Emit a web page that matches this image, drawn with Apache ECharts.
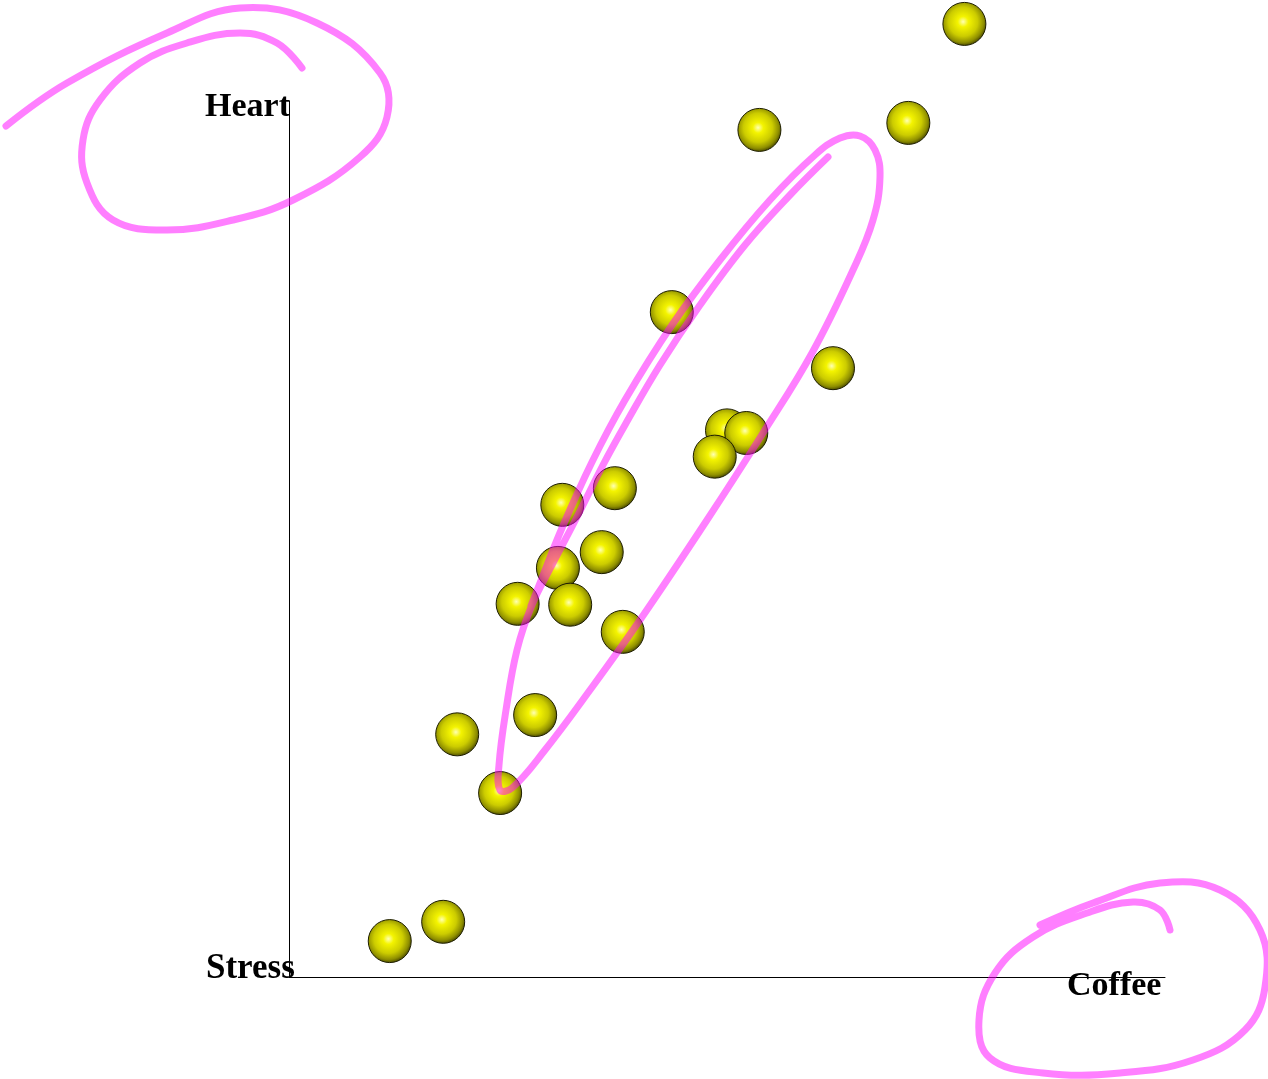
<!DOCTYPE html>
<html>
<head>
<meta charset="utf-8">
<script src="https://cdn.jsdelivr.net/npm/echarts@6/dist/echarts.min.js"></script>
<style>
html,body{margin:0;padding:0;background:#fff;}
#chart{width:1268px;height:1079px;}
</style>
</head>
<body>
<div id="chart"></div>
<script>
// Data (Coffee on x, Heart on y)
const coffee = [11.5, 17.6, 19.2, 24.1, 28.1, 26.1, 30.7, 32.1, 35.7, 31.2, 37.2, 38.1, 43.7, 50.0, 52.2, 48.6, 62.1, 53.7, 70.7, 77.1];
const heart  = [4.1, 6.3, 27.7, 21.0, 29.9, 42.6, 46.7, 42.5, 48.5, 53.9, 55.8, 39.4, 75.9, 62.4, 62.1, 59.4, 69.5, 96.7, 97.5, 108.8];
const axisNames = { x: 'Coffee', y: 'Heart', origin: 'Stress' };

const points = coffee.map((c, i) => [c, heart[i]]);

// Hand-drawn highlighter annotations (decoration, pixel space)
const penTopLeft = [[6,126],[67,83],[167,33],[240,8],[317,23],[380,73],[387,117],[360,157],[293,200],[233,220],[167,230],[113,220],[87,183],[83,140],[100,100],[140,63],[187,43],[240,33],[277,43],[302,68]];
const penMiddle = [[828,157],[790,195],[745,245],[700,305],[660,365],[625,425],[603,465],[578,515],[552,565],[532,605],[517,650],[506,710],[499,765],[500,790],[512,788],[545,750],[590,690],[640,620],[707,520],[763,433],[812,353],[853,270],[873,220],[880,177],[875,150],[860,136],[840,138],[815,155],[770,200],[720,260],[672,325],[625,400],[592,462],[562,528],[542,578],[531,606]];
const penBottomRight = [[1040,925],[1093,903],[1160,883],[1220,890],[1260,930],[1265,987],[1245,1030],[1193,1060],[1120,1073],[1043,1073],[990,1058],[979,1020],[995,973],[1033,937],[1087,913],[1133,902],[1160,910],[1170,930]];

const chart = echarts.init(document.getElementById('chart'), null, { renderer: 'canvas' });

const labelStyle = { fontFamily: '"Liberation Serif", "Times New Roman", serif', fontWeight: 'bold', fontSize: 34, fill: '#000' };
const penStyle = { stroke: 'rgba(255,0,255,0.5)', lineWidth: 7, fill: null, lineCap: 'round', lineJoin: 'round' };

chart.setOption({
  backgroundColor: '#fff',
  animation: false,
  grid: { left: 289, top: 101, width: 876, height: 876 },
  xAxis: {
    type: 'value', min: 0, max: 100,
    axisLine: { show: true, lineStyle: { color: '#000', width: 1 } },
    axisTick: { show: false }, axisLabel: { show: false }, splitLine: { show: false }
  },
  yAxis: {
    type: 'value', min: 0, max: 100,
    axisLine: { show: true, lineStyle: { color: '#000', width: 1 } },
    axisTick: { show: false }, axisLabel: { show: false }, splitLine: { show: false }
  },
  series: [{
    type: 'scatter',
    clip: false,
    data: points,
    symbol: 'circle',
    symbolSize: 43,
    itemStyle: {
      opacity: 1,
      color: {
        type: 'radial', x: 0.47, y: 0.45, r: 0.55,
        colorStops: [
          { offset: 0, color: '#ffffb4' },
          { offset: 0.22, color: '#f4f400' },
          { offset: 0.6, color: '#cccc00' },
          { offset: 0.85, color: '#8f8f00' },
          { offset: 1, color: '#4a4a00' }
        ]
      },
      borderColor: '#1e1e00',
      borderWidth: 1
    },
    emphasis: { disabled: true }
  }],
  graphic: [
    { type: 'text', right: 1268 - 290, top: 90, z: 50, style: Object.assign({ text: axisNames.y }, labelStyle) },
    { type: 'text', left: 206, top: 951, z: 50, style: Object.assign({ text: axisNames.origin }, Object.assign({}, labelStyle, { fontSize: 35 })) },
    { type: 'text', left: 1067, top: 969, z: 50, style: Object.assign({ text: axisNames.x }, labelStyle) },
    { type: 'polyline', z: 100, shape: { points: penTopLeft, smooth: 0.4 }, style: penStyle },
    { type: 'polyline', z: 100, shape: { points: penMiddle, smooth: 0.4 }, style: penStyle },
    { type: 'polyline', z: 100, shape: { points: penBottomRight, smooth: 0.4 }, style: penStyle }
  ]
});
</script>
</body>
</html>
